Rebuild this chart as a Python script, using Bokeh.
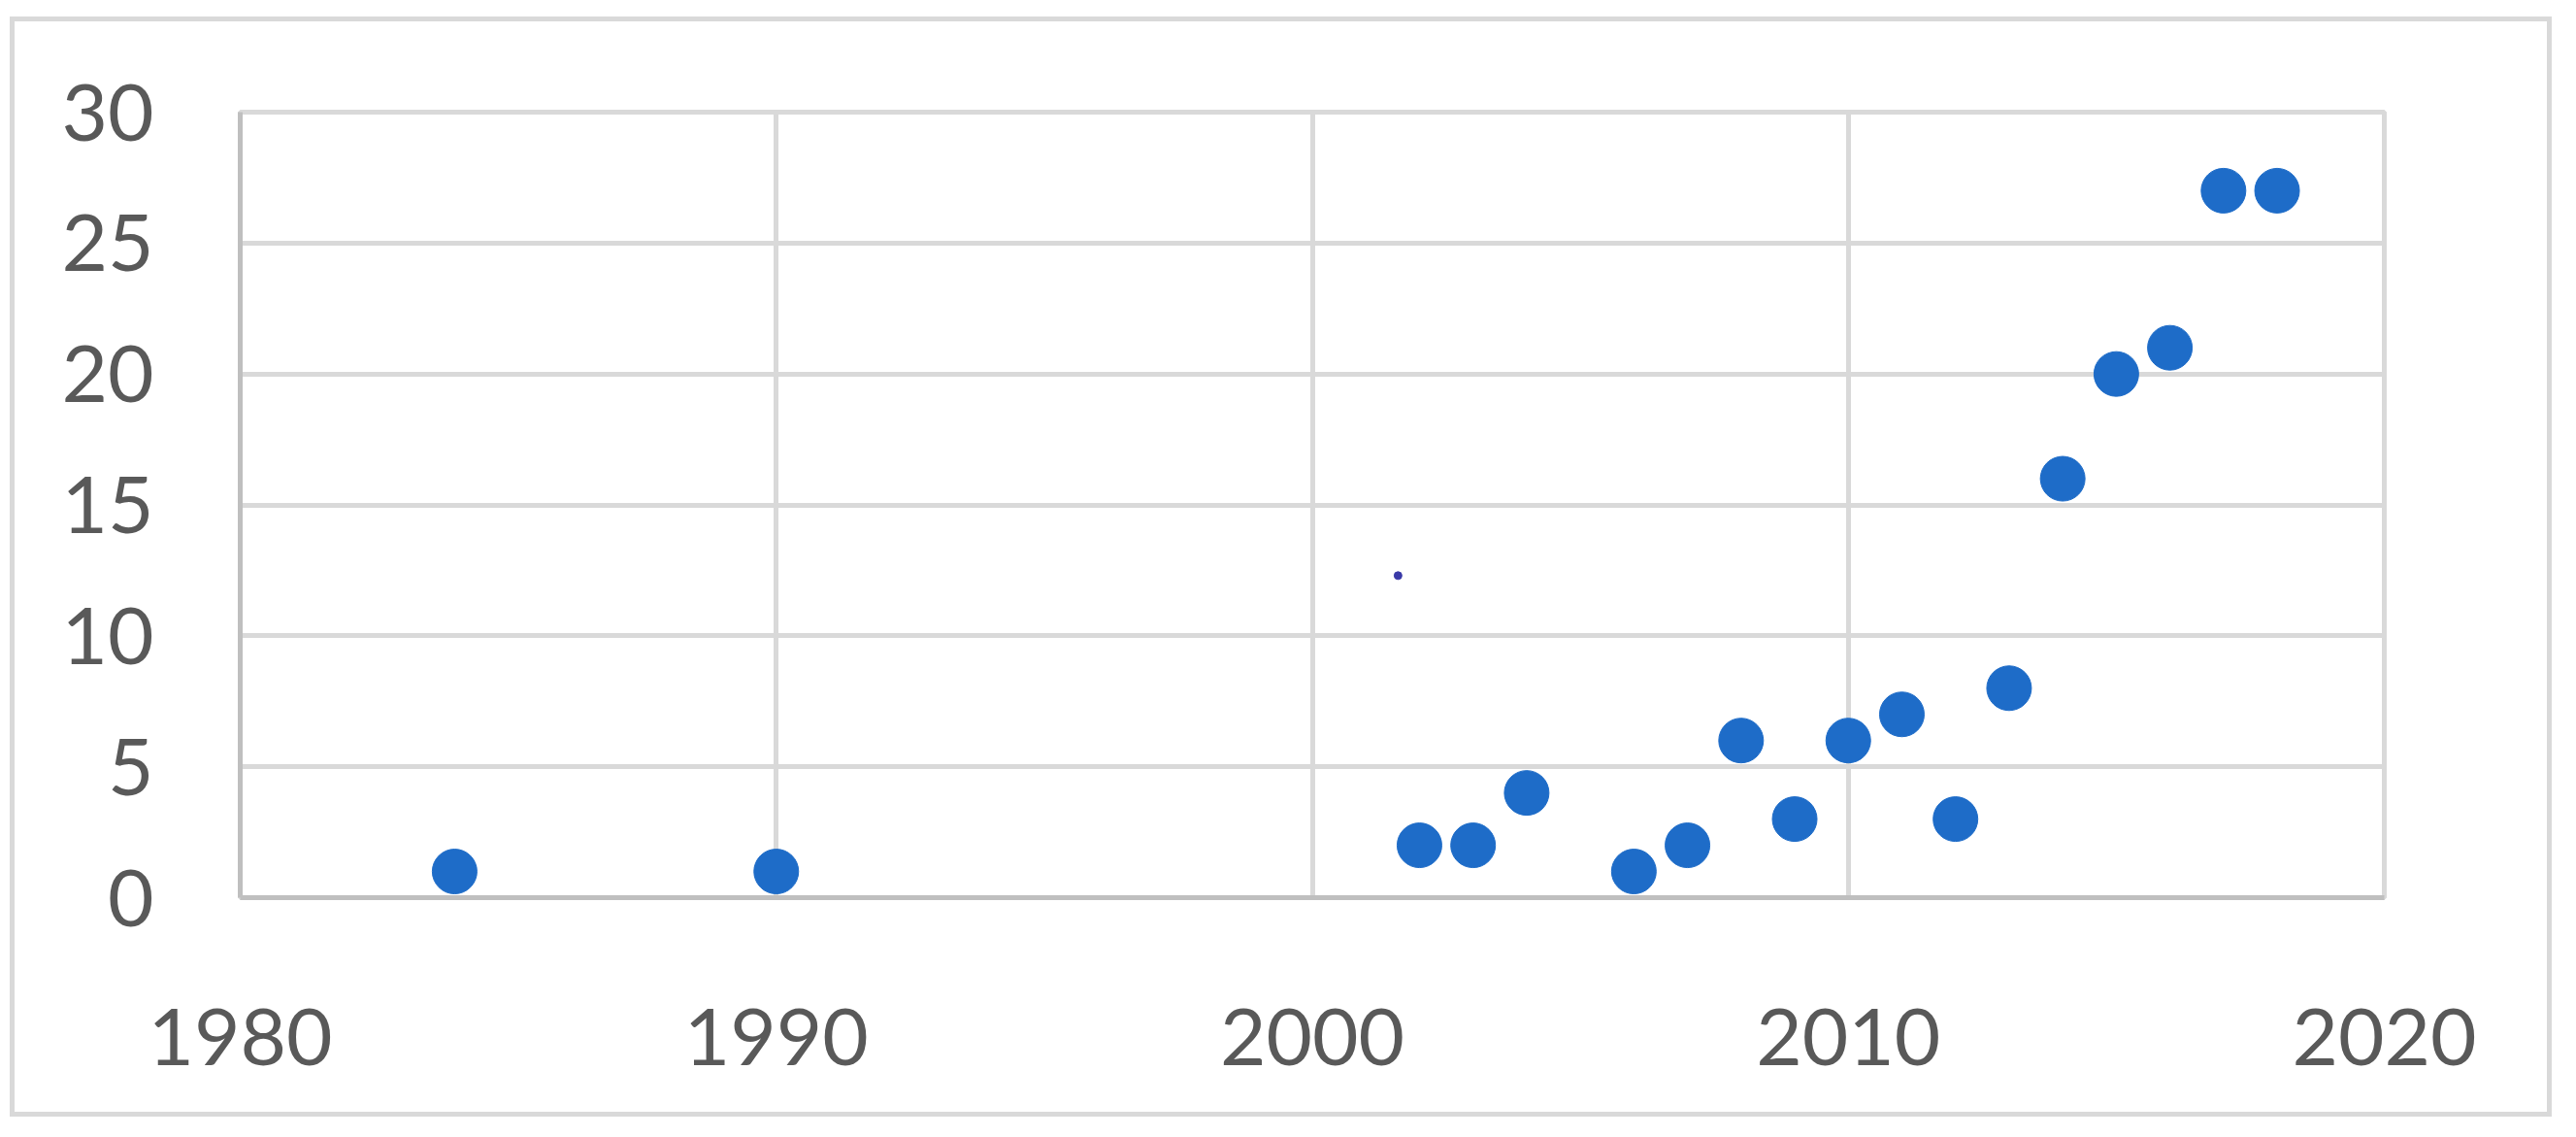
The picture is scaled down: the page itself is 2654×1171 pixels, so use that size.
from bokeh.plotting import figure
from bokeh.models import Range1d, FixedTicker
from bokeh.embed import file_html
from bokeh.resources import INLINE

# Data
years = [1984, 1990, 2002, 2003, 2004, 2006, 2007, 2008, 2009, 2010,
         2011, 2012, 2013, 2014, 2015, 2016, 2017, 2018]
counts = [1, 1, 2, 2, 4, 1, 2, 6, 3, 6, 7, 3, 8, 16, 20, 21, 27, 27]

# small stray mark visible in the original picture
stray_x = [2001.6]
stray_y = [12.3]

x_ticks = [1980, 1990, 2000, 2010, 2020]
y_ticks = [0, 5, 10, 15, 20, 25, 30]

W, H = 2609, 1123
p = figure(width=W, height=H, output_backend="svg", toolbar_location=None,
           x_range=Range1d(1980, 2020), y_range=Range1d(0, 30),
           min_border_left=232, min_border_right=178,
           min_border_top=93, min_border_bottom=231)

# outer chart border (light grey frame round the whole chart)
p.styles = {"border": "5px solid #d9d9d9", "box-sizing": "content-box",
            "margin-left": "10px", "margin-top": "17px"}

p.background_fill_color = "white"
p.border_fill_color = "white"
p.outline_line_color = "#d9d9d9"
p.outline_line_width = 5

for ax in (p.xaxis[0], p.yaxis[0]):
    ax.axis_line_color = "#bfbfbf"
    ax.axis_line_width = 5
    ax.major_tick_out = 0
    ax.major_tick_in = 0
    ax.minor_tick_out = 0
    ax.minor_tick_in = 0
    ax.major_label_text_font = "Lato"
    ax.major_label_text_font_size = "82px"
    ax.major_label_text_color = "#595959"

p.xaxis.ticker = FixedTicker(ticks=x_ticks)
p.yaxis.ticker = FixedTicker(ticks=y_ticks)
p.xaxis.major_label_standoff = 114
p.yaxis.major_label_standoff = 89

p.xgrid.ticker = FixedTicker(ticks=x_ticks)
p.ygrid.ticker = FixedTicker(ticks=y_ticks)
for g in (p.xgrid[0], p.ygrid[0]):
    g.grid_line_color = "#d9d9d9"
    g.grid_line_width = 5

p.scatter(years, counts, size=46, fill_color="#1E6CC8", line_color="#1E6CC8")
p.scatter(stray_x, stray_y, size=8, fill_color="#3A3AA8", line_color="#3A3AA8")

open("out.html", "w").write(file_html(p, INLINE))
